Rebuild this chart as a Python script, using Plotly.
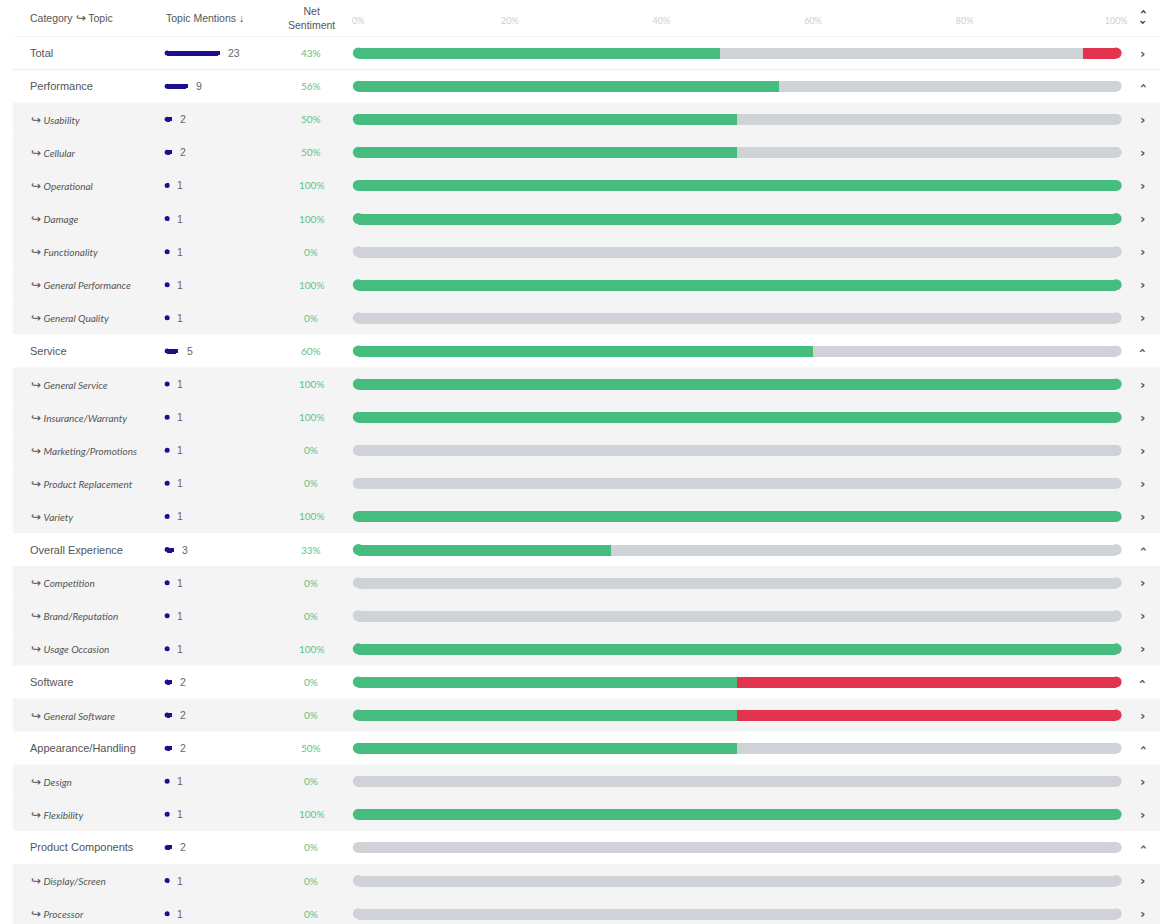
import plotly.graph_objects as go

# ---------------- data ----------------
labels = ["Total", "Performance", "Usability", "Cellular", "Operational", "Damage",
          "Functionality", "General Performance", "General Quality", "Service",
          "General Service", "Insurance/Warranty", "Marketing/Promotions",
          "Product Replacement", "Variety", "Overall Experience", "Competition",
          "Brand/Reputation", "Usage Occasion", "Software", "General Software",
          "Appearance/Handling", "Design", "Flexibility", "Product Components",
          "Display/Screen", "Processor"]
levels = ["total", "category", "topic", "topic", "topic", "topic", "topic", "topic", "topic",
          "category", "topic", "topic", "topic", "topic", "topic",
          "category", "topic", "topic", "topic",
          "category", "topic",
          "category", "topic", "topic",
          "category", "topic", "topic"]
mentions = [23, 9, 2, 2, 1, 1, 1, 1, 1, 5, 1, 1, 1, 1, 1, 3, 1, 1, 1, 2, 2, 2, 1, 1, 2, 1, 1]
positive = [11, 5, 1, 1, 1, 1, 0, 1, 0, 3, 1, 1, 0, 0, 1, 1, 0, 0, 1, 1, 1, 1, 0, 1, 0, 0, 0]
negative = [1, 0, 0, 0, 0, 0, 0, 0, 0, 0, 0, 0, 0, 0, 0, 0, 0, 0, 0, 1, 1, 0, 0, 0, 0, 0, 0]
tick_vals = [0, 20, 40, 60, 80, 100]
tick_text = ["0%", "20%", "40%", "60%", "80%", "100%"]

# ---------------- derived ----------------
n = len(labels)
rows = list(range(n))
pos_pct = [100.0 * p / m for p, m in zip(positive, mentions)]
neg_pct = [100.0 * q / m for q, m in zip(negative, mentions)]
neu_pct = [100.0 - a - b for a, b in zip(pos_pct, neg_pct)]
net = [round(100.0 * (p - q) / m) for p, q, m in zip(positive, negative, mentions)]

GREEN = "#46bd7f"
GREY = "#cfd2d6"
RED = "#e2334f"
NAVY = "#1a108f"
TXT = "#555555"
PCT = "#5cc28e"
BAND = "#f4f4f4"

W, H = 1171, 924
TOP = 36.5
PITCH = 33.1
y_top_val = -0.5 + (H - TOP) / PITCH
BAR_W = 11 / PITCH
MBAR_W = 5 / PITCH

fig = go.Figure()

# sentiment stacked bars
for vals, col, name in [(pos_pct, GREEN, "Positive"), (neu_pct, GREY, "Neutral"), (neg_pct, RED, "Negative")]:
    fig.add_trace(go.Bar(x=vals, y=rows, orientation="h", marker=dict(color=col, line=dict(width=0)),
                         width=BAR_W, name=name, showlegend=False, hoverinfo="skip",
                         xaxis="x", yaxis="y"))

# rounded end caps
left_cols, right_cols = [], []
for p, u, q in zip(pos_pct, neu_pct, neg_pct):
    left_cols.append(GREEN if p > 0 else (GREY if u > 0 else RED))
    right_cols.append(RED if q > 0 else (GREY if u > 0 else GREEN))
fig.add_trace(go.Scatter(x=[0] * n, y=rows, mode="markers", cliponaxis=False,
                         marker=dict(size=11, color=left_cols, line=dict(width=0)),
                         showlegend=False, hoverinfo="skip", xaxis="x", yaxis="y"))
fig.add_trace(go.Scatter(x=[100] * n, y=rows, mode="markers", cliponaxis=False,
                         marker=dict(size=11, color=right_cols, line=dict(width=0)),
                         showlegend=False, hoverinfo="skip", xaxis="x", yaxis="y"))

# mention bars
fig.add_trace(go.Bar(x=mentions, y=rows, orientation="h",
                     marker=dict(color=NAVY, line=dict(width=0), cornerradius=2.5),
                     width=MBAR_W, showlegend=False, hoverinfo="skip", xaxis="x2", yaxis="y"))
fig.add_trace(go.Scatter(x=[0] * n, y=rows, mode="markers", cliponaxis=False,
                         marker=dict(size=5, color=NAVY, line=dict(width=0)),
                         showlegend=False, hoverinfo="skip", xaxis="x2", yaxis="y"))

shapes = []
ann = []
# row backgrounds
for i, lv in enumerate(levels):
    if lv == "topic":
        shapes.append(dict(type="rect", xref="paper", yref="y", x0=7 / W, x1=1,
                           y0=i - 0.5, y1=i + 0.5, fillcolor=BAND, line=dict(width=0), layer="below"))
for yb in [-0.5, 0.5]:
    shapes.append(dict(type="line", xref="paper", yref="y", x0=7 / W, x1=1, y0=yb, y1=yb,
                       line=dict(color="#ececec", width=1), layer="below"))

ARROW = '<span style="font-size:12px">↪</span>'
for i, (lab, lv) in enumerate(zip(labels, levels)):
    if lv == "topic":
        ann.append(dict(xref="paper", yref="y", x=23 / W, y=i, xanchor="left", yanchor="middle",
                        text=ARROW + " <i>" + lab + "</i>", showarrow=False,
                        font=dict(family="Lato", size=10, color=TXT)))
        chev, ang = "›", 0
    else:
        ann.append(dict(xref="paper", yref="y", x=22 / W, y=i, xanchor="left", yanchor="middle",
                        text=lab, showarrow=False,
                        font=dict(family="Liberation Sans, Arial", size=11, color=TXT)))
        chev, ang = ("›", 0) if lv == "total" else ("›", -90)
    ann.append(dict(xref="paper", yref="y", x=1153 / W, y=i, xanchor="center", yanchor="middle",
                    text="<b>" + chev + "</b>", textangle=ang, showarrow=False,
                    font=dict(family="DejaVu Sans", size=13, color="#555555")))
    # mention count
    ann.append(dict(xref="x2", yref="y", x=mentions[i], y=i, xanchor="left", yanchor="middle",
                    xshift=6, text=str(mentions[i]), showarrow=False,
                    font=dict(family="Liberation Sans, Arial", size=10.5, color="#666666")))
    # net sentiment
    ann.append(dict(xref="paper", yref="y", x=310 / W, y=i, xanchor="center", yanchor="middle",
                    text=f"{net[i]}%", showarrow=False,
                    font=dict(family="Lato", size=10, color=PCT)))

# header
hy = 1 - 18 / H
hfont = dict(family="Liberation Sans, Arial", size=10.5, color=TXT)
ann.append(dict(xref="paper", yref="paper", x=22 / W, y=hy, xanchor="left", yanchor="middle",
                text="Category " + ARROW + " Topic", showarrow=False, font=hfont))
ann.append(dict(xref="paper", yref="paper", x=160 / W, y=hy, xanchor="left", yanchor="middle",
                text="Topic Mentions <b>↓</b>", showarrow=False, font=hfont))
ann.append(dict(xref="paper", yref="paper", x=310 / W, y=hy, xanchor="center", yanchor="middle",
                text="Net<br>Sentiment", showarrow=False, font=hfont))
ann.append(dict(xref="paper", yref="paper", x=1154 / W, y=1 - 12 / H, xanchor="center", yanchor="middle",
                text="<b>›</b>", textangle=-90, showarrow=False,
                font=dict(family="DejaVu Sans", size=12, color="#333333")))
ann.append(dict(xref="paper", yref="paper", x=1154 / W, y=1 - 22 / H, xanchor="center", yanchor="middle",
                text="<b>›</b>", textangle=90, showarrow=False,
                font=dict(family="DejaVu Sans", size=12, color="#333333")))

x0px, x100px = 357.5, 1126.5
m0px, mscale = 163.5, 2.33
mrange = 30

fig.update_layout(
    width=W, height=H,
    margin=dict(l=0, r=0, t=0, b=0),
    paper_bgcolor="white", plot_bgcolor="white",
    barmode="stack", bargap=0,
    showlegend=False,
    xaxis=dict(domain=[x0px / W, x100px / W], range=[0, 100], side="top", anchor="y",
               tickvals=tick_vals, ticktext=tick_text, ticks="", showgrid=False, zeroline=False,
               showline=False, ticklabelstandoff=10,
               tickfont=dict(family="Lato", size=9, color="#cfcfcf"), fixedrange=True),
    xaxis2=dict(domain=[m0px / W, (m0px + mscale * mrange) / W], range=[0, mrange], anchor="y",
                showticklabels=False, ticks="", showgrid=False, zeroline=False, showline=False,
                fixedrange=True),
    yaxis=dict(domain=[0, 1 - TOP / H], range=[y_top_val, -0.5], showticklabels=False, ticks="",
               showgrid=False, zeroline=False, showline=False, fixedrange=True),
    shapes=shapes,
    annotations=ann,
)

fig.write_html("out.html", config={"responsive": False, "displayModeBar": False},
               post_script="document.body.style.margin='0';document.body.style.overflow='hidden';")
